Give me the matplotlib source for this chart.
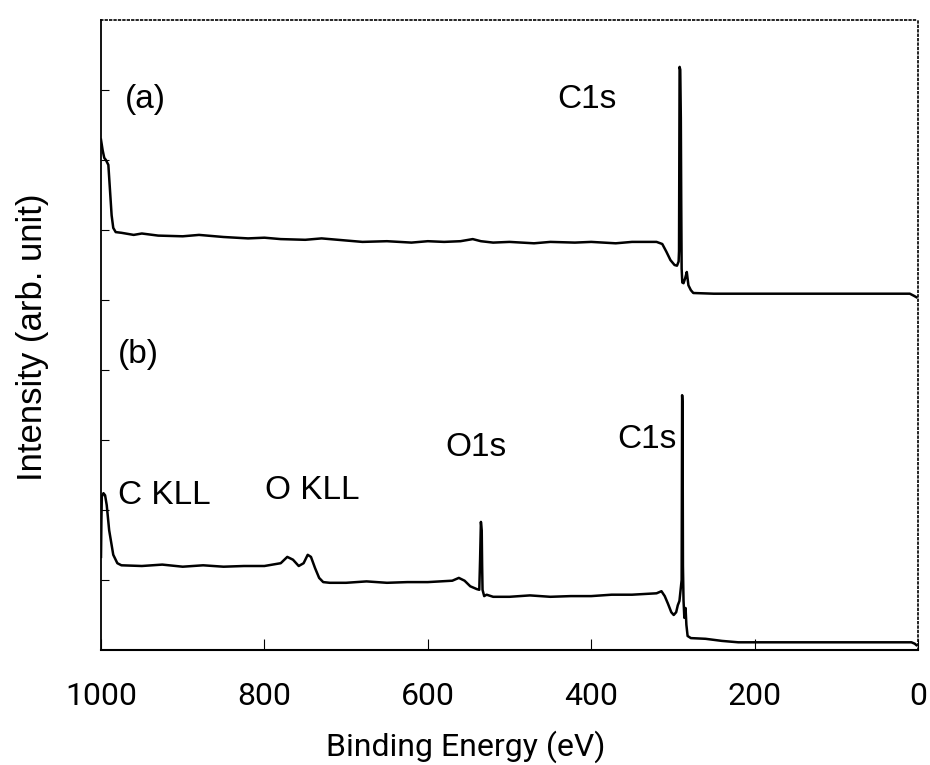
import matplotlib
matplotlib.use("Agg")
import matplotlib.pyplot as plt

# XPS survey spectra, intensity in arbitrary units (one tick = 1 unit)
energy_a = [1000, 998, 996, 994, 991, 989, 987, 985, 982, 975, 960, 950, 930, 900, 880,
            850, 820, 800, 780, 750, 730, 700, 680, 650, 620, 600, 580, 560, 545, 535,
            520, 500, 470, 450, 420, 400, 370, 350, 320, 313, 308, 303, 298, 295, 293,
            292.5, 291.8, 291, 290.3, 289.8, 289.3, 288.5, 287, 285, 283, 281, 278, 275,
            250, 200, 150, 100, 50, 10, 5, 2]
intensity_a = [7.29, 7.14, 7.03, 7.00, 6.93, 6.57, 6.21, 6.03, 5.97, 5.96, 5.93, 5.95,
               5.92, 5.91, 5.93, 5.90, 5.88, 5.89, 5.87, 5.86, 5.88, 5.85, 5.83, 5.84,
               5.82, 5.84, 5.83, 5.84, 5.87, 5.84, 5.82, 5.83, 5.81, 5.83, 5.82, 5.83,
               5.81, 5.83, 5.83, 5.80, 5.69, 5.57, 5.50, 5.49, 5.55, 5.70, 8.33, 8.29,
               7.60, 6.40, 5.45, 5.25, 5.24, 5.31, 5.40, 5.21, 5.14, 5.10, 5.09, 5.09,
               5.09, 5.09, 5.09, 5.09, 5.06, 5.04]

energy_b = [1000, 999.5, 999, 997, 995, 993, 990, 985, 980, 975, 950, 925, 900, 875, 850,
            825, 800, 780, 772, 765, 758, 752, 747, 743, 738, 733, 728, 720, 700, 675,
            650, 625, 600, 570, 562, 555, 548, 540, 537, 536, 535, 534, 533.5, 533, 531,
            528, 520, 500, 475, 450, 425, 400, 375, 350, 320, 314, 310, 306, 302, 299,
            296, 294, 292, 289.3, 288.7, 288.2, 287.7, 287, 286, 284.5, 283.5, 282, 278,
            260, 240, 220, 150, 100, 50, 15, 8, 4, 2]
intensity_b = [1.33, 1.86, 2.19, 2.24, 2.21, 2.07, 1.71, 1.36, 1.24, 1.21, 1.20, 1.22,
               1.19, 1.21, 1.19, 1.20, 1.20, 1.24, 1.33, 1.29, 1.20, 1.24, 1.36, 1.33,
               1.17, 1.03, 0.97, 0.96, 0.96, 0.98, 0.96, 0.97, 0.97, 0.99, 1.03, 0.99,
               0.91, 0.87, 0.86, 1.29, 1.83, 1.71, 1.21, 0.86, 0.77, 0.79, 0.76, 0.76,
               0.78, 0.76, 0.77, 0.77, 0.79, 0.79, 0.81, 0.84, 0.77, 0.66, 0.54, 0.50,
               0.54, 0.64, 0.70, 1.00, 3.64, 3.50, 1.20, 0.71, 0.46, 0.60, 0.36, 0.20,
               0.17, 0.16, 0.13, 0.11, 0.11, 0.11, 0.11, 0.11, 0.11, 0.09, 0.07]

x_ticks = [1000, 800, 600, 400, 200, 0]
x_labels = ["1000", "800", "600", "400", "200", "0"]
y_ticks = [1, 2, 3, 4, 5, 6, 7, 8]

narrow = ["Roboto", "Liberation Sans", "DejaVu Sans"]
arial = ["Liberation Sans", "DejaVu Sans"]

fig = plt.figure(figsize=(9.3, 7.65), dpi=100)
ax = fig.add_axes([101 / 930, 1 - 650 / 765, 817 / 930, 630 / 765])

ax.plot(energy_a, intensity_a, color="black", lw=1.8)
ax.plot(energy_b, intensity_b, color="black", lw=1.8)

ax.set_xlim(1000, 0)
ax.set_ylim(0, 9)

ax.set_xticks(x_ticks)
ax.set_xticklabels(x_labels, fontsize=23, family=narrow)
ax.set_yticks(y_ticks)
ax.set_yticklabels([])
ax.tick_params(axis="x", direction="in", length=8, width=0.8, pad=23)
ax.tick_params(axis="y", direction="in", length=6, width=0.8)

ax.spines["top"].set_linestyle(":")
ax.spines["right"].set_linestyle(":")
ax.spines["top"].set_linewidth(1.2)
ax.spines["right"].set_linewidth(1.2)
ax.spines["left"].set_linewidth(1.3)
ax.spines["bottom"].set_linewidth(1.5)

ax.set_xlabel("Binding Energy (eV)", fontsize=23, family=narrow)
ax.xaxis.set_label_coords(0.446, -0.127)
ax.set_ylabel("Intensity (arb. unit)", fontsize=25, family=arial)
ax.yaxis.set_label_coords(-0.064, 0.497)

# peak labels
ax.text(971, 7.86, "(a)", fontsize=24, family=arial, va="center")
ax.text(442, 7.86, "C1s", fontsize=24, family=arial, va="center")
ax.text(979, 4.22, "(b)", fontsize=24, family=arial, va="center")
ax.text(979, 2.21, "C KLL", fontsize=24, family=arial, va="center")
ax.text(799, 2.28, "O KLL", fontsize=24, family=arial, va="center")
ax.text(579, 2.90, "O1s", fontsize=24, family=arial, va="center")
ax.text(368, 3.0, "C1s", fontsize=24, family=arial, va="center")

fig.savefig("out.png", dpi=100)
